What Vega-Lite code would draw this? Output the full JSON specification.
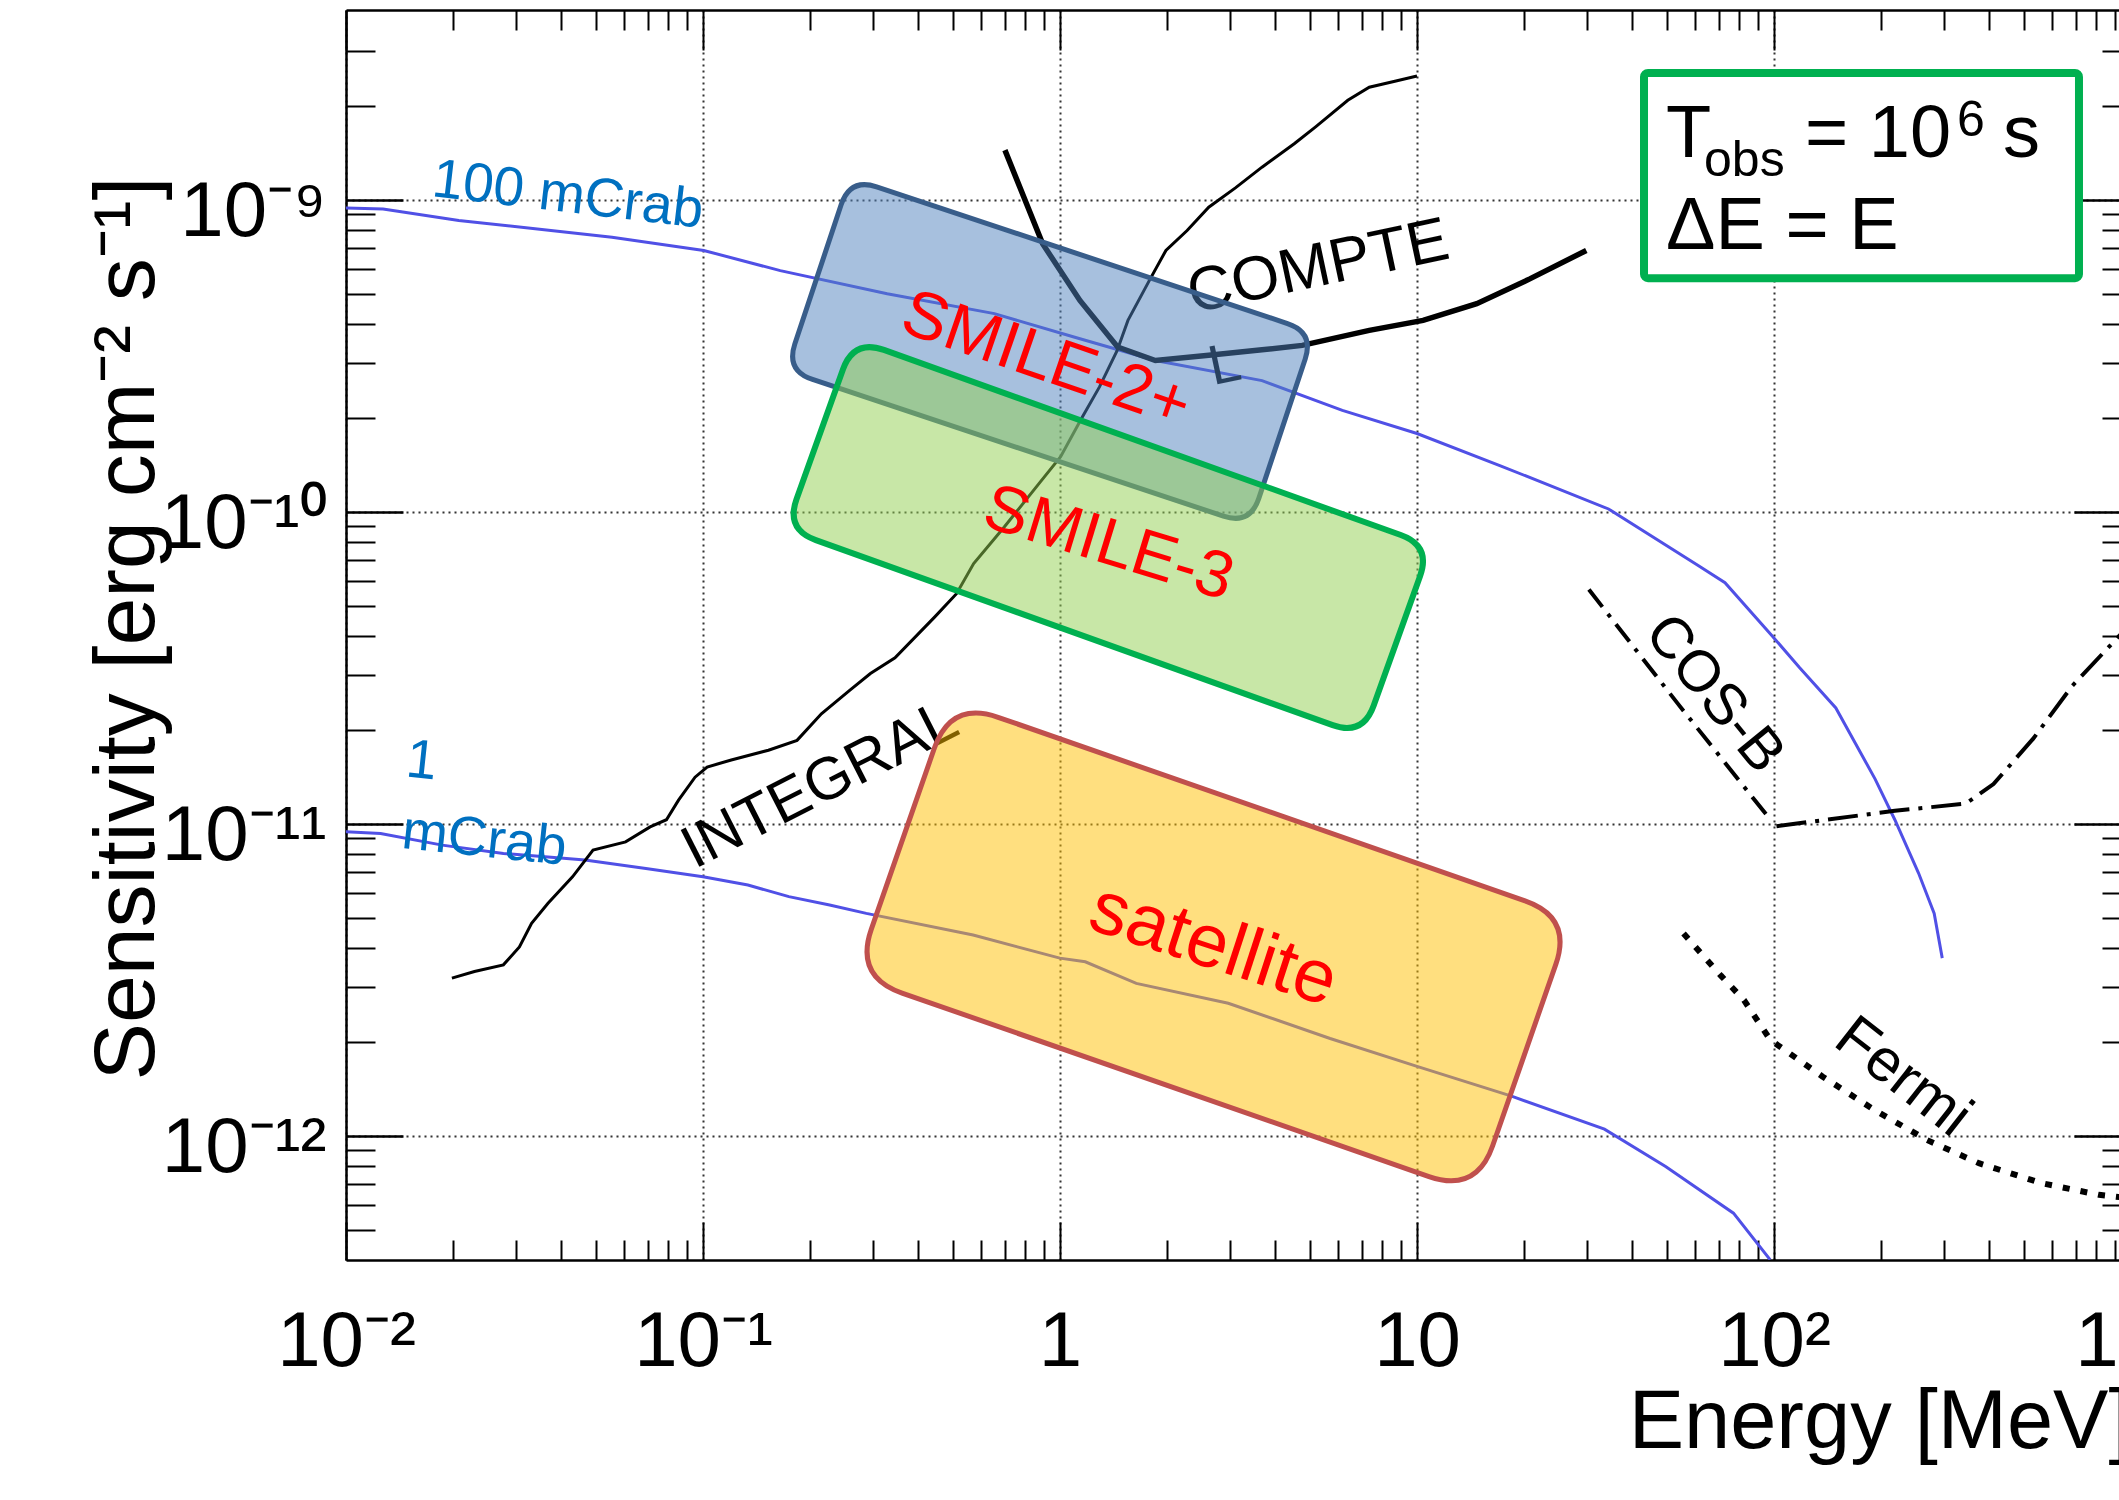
{
 "$schema": "https://vega.github.io/schema/vega-lite/v6.json",
 "autosize": {"type": "none"},
 "padding": {"left": 346, "top": 10, "right": 0, "bottom": 240},
 "width": 1785,
 "height": 1250,
 "background": "white",
 "config": {"view": {"stroke": null}, "font": "Liberation Sans"},
 "datasets": {
  "curves": [
   {"c":"m100","E":0.01,"S":9.40e-10},{"c":"m100","E":0.0127,"S":9.33e-10},{"c":"m100","E":0.0207,"S":8.57e-10},{"c":"m100","E":0.0375,"S":7.96e-10},{"c":"m100","E":0.0556,"S":7.57e-10},{"c":"m100","E":0.1005,"S":6.87e-10},{"c":"m100","E":0.1646,"S":5.92e-10},{"c":"m100","E":0.328,"S":4.99e-10},{"c":"m100","E":0.655,"S":4.31e-10},{"c":"m100","E":1.10,"S":3.62e-10},{"c":"m100","E":1.85,"S":3.05e-10},{"c":"m100","E":3.68,"S":2.63e-10},{"c":"m100","E":6.18,"S":2.11e-10},{"c":"m100","E":10.0,"S":1.78e-10},{"c":"m100","E":17.2,"S":1.40e-10},{"c":"m100","E":34.4,"S":1.02e-10},{"c":"m100","E":61.0,"S":6.75e-11},{"c":"m100","E":72.9,"S":5.92e-11},{"c":"m100","E":99.0,"S":3.99e-11},{"c":"m100","E":118,"S":3.16e-11},{"c":"m100","E":149,"S":2.35e-11},{"c":"m100","E":192,"S":1.39e-11},{"c":"m100","E":218,"S":1.03e-11},{"c":"m100","E":254,"S":6.95e-12},{"c":"m100","E":281,"S":5.16e-12},{"c":"m100","E":296,"S":3.71e-12},
   {"c":"m1","E":0.01,"S":9.42e-12},{"c":"m1","E":0.0125,"S":9.31e-12},{"c":"m1","E":0.0186,"S":8.54e-12},{"c":"m1","E":0.0276,"S":8.03e-12},{"c":"m1","E":0.0467,"S":7.65e-12},{"c":"m1","E":0.0692,"S":7.19e-12},{"c":"m1","E":0.1,"S":6.76e-12},{"c":"m1","E":0.1336,"S":6.36e-12},{"c":"m1","E":0.174,"S":5.84e-12},{"c":"m1","E":0.2263,"S":5.49e-12},{"c":"m1","E":0.2867,"S":5.16e-12},{"c":"m1","E":0.571,"S":4.40e-12},{"c":"m1","E":0.999,"S":3.71e-12},{"c":"m1","E":1.177,"S":3.61e-12},{"c":"m1","E":1.636,"S":3.08e-12},{"c":"m1","E":2.96,"S":2.66e-12},{"c":"m1","E":5.71,"S":2.05e-12},{"c":"m1","E":10.0,"S":1.67e-12},{"c":"m1","E":18.4,"S":1.34e-12},{"c":"m1","E":33.5,"S":1.05e-12},{"c":"m1","E":49.7,"S":7.97e-13},{"c":"m1","E":77.0,"S":5.65e-13},{"c":"m1","E":97.5,"S":4.01e-13},
   {"c":"integral","E":0.0198,"S":3.20e-12},{"c":"integral","E":0.0229,"S":3.36e-12},{"c":"integral","E":0.0276,"S":3.53e-12},{"c":"integral","E":0.0306,"S":4.03e-12},{"c":"integral","E":0.0331,"S":4.80e-12},{"c":"integral","E":0.0368,"S":5.56e-12},{"c":"integral","E":0.0431,"S":6.76e-12},{"c":"integral","E":0.0492,"S":8.23e-12},{"c":"integral","E":0.0607,"S":8.75e-12},{"c":"integral","E":0.0711,"S":9.77e-12},{"c":"integral","E":0.079,"S":1.03e-11},{"c":"integral","E":0.0854,"S":1.19e-11},{"c":"integral","E":0.095,"S":1.41e-11},{"c":"integral","E":0.1027,"S":1.52e-11},{"c":"integral","E":0.12,"S":1.60e-11},{"c":"integral","E":0.1525,"S":1.72e-11},{"c":"integral","E":0.1834,"S":1.85e-11},{"c":"integral","E":0.2146,"S":2.25e-11},{"c":"integral","E":0.258,"S":2.68e-11},{"c":"integral","E":0.2944,"S":3.03e-11},{"c":"integral","E":0.345,"S":3.40e-11},{"c":"integral","E":0.446,"S":4.6e-11},{"c":"integral","E":0.513,"S":5.46e-11},{"c":"integral","E":0.573,"S":6.82e-11},{"c":"integral","E":0.698,"S":8.93e-11},{"c":"integral","E":0.873,"S":1.23e-10},{"c":"integral","E":1.004,"S":1.50e-10},{"c":"integral","E":1.155,"S":2.01e-10},{"c":"integral","E":1.29,"S":2.51e-10},{"c":"integral","E":1.445,"S":3.28e-10},{"c":"integral","E":1.55,"S":4.10e-10},{"c":"integral","E":1.78,"S":5.51e-10},{"c":"integral","E":1.98,"S":6.87e-10},{"c":"integral","E":2.27,"S":7.96e-10},{"c":"integral","E":2.61,"S":9.45e-10},{"c":"integral","E":3.10,"S":1.09e-9},{"c":"integral","E":3.68,"S":1.27e-9},{"c":"integral","E":4.53,"S":1.51e-9},{"c":"integral","E":5.20,"S":1.71e-9},{"c":"integral","E":6.40,"S":2.08e-9},{"c":"integral","E":7.35,"S":2.29e-9},{"c":"integral","E":8.73,"S":2.40e-9},{"c":"integral","E":10.0,"S":2.49e-9},
   {"c":"comptel","E":0.701,"S":1.44e-9},{"c":"comptel","E":0.894,"S":7.22e-10},{"c":"comptel","E":1.137,"S":4.75e-10},{"c":"comptel","E":1.45,"S":3.37e-10},{"c":"comptel","E":1.85,"S":3.05e-10},{"c":"comptel","E":2.61,"S":3.17e-10},{"c":"comptel","E":3.68,"S":3.30e-10},{"c":"comptel","E":4.77,"S":3.41e-10},{"c":"comptel","E":7.35,"S":3.81e-10},{"c":"comptel","E":10.4,"S":4.10e-10},{"c":"comptel","E":14.7,"S":4.64e-10},{"c":"comptel","E":20.7,"S":5.57e-10},{"c":"comptel","E":29.8,"S":6.87e-10},
   {"c":"cosb","E":30.3,"S":5.63e-11},{"c":"cosb","E":53.7,"S":2.43e-11},{"c":"cosb","E":97.7,"S":1.03e-11},
   {"c":"egret","E":101.6,"S":9.82e-12},{"c":"egret","E":218,"S":1.10e-11},{"c":"egret","E":344.7,"S":1.16e-11},{"c":"egret","E":411.9,"S":1.34e-11},{"c":"egret","E":531.5,"S":1.87e-11},{"c":"egret","E":685.5,"S":2.77e-11},{"c":"egret","E":925.5,"S":3.99e-11},{"c":"egret","E":1000,"S":4.38e-11},
   {"c":"fermi","E":55.8,"S":4.45e-12},{"c":"fermi","E":71.0,"S":3.26e-12},{"c":"fermi","E":82.4,"S":2.72e-12},{"c":"fermi","E":97.6,"S":2.03e-12},{"c":"fermi","E":136.6,"S":1.55e-12},{"c":"fermi","E":191.2,"S":1.21e-12},{"c":"fermi","E":267.9,"S":9.7e-13},{"c":"fermi","E":375,"S":8.17e-13},{"c":"fermi","E":562,"S":7.05e-13},{"c":"fermi","E":813,"S":6.47e-13},{"c":"fermi","E":1000,"S":6.3e-13}
  ],
  "labels": [
   {"t":"INTEGRAL","E":0.2127,"S":1.329e-11},
   {"t":"COMPTE","E":5.28,"S":6.08e-10},
   {"t":"L","E":2.891,"S":2.94e-10},
   {"t":"COS-B","E":67.9,"S":2.6e-11},
   {"t":"Fermi","E":229.8,"S":1.54e-12},
   {"t":"100 mCrab","E":0.04185,"S":1.034e-9},
   {"t":"1","E":0.01629,"S":1.59e-11},
   {"t":"mCrab","E":0.0244,"S":8.9e-12},
   {"t":"SMILE-2+","E":0.9138,"S":3.05e-10},
   {"t":"SMILE-3","E":1.369,"S":7.89e-11},
   {"t":"satellite","E":2.693,"S":4.08e-12}
  ],
  "boxes": [
   {"b":"SMILE-2+","E":0.9376,"S":3.26e-10},
   {"b":"SMILE-3","E":1.3656,"S":8.26e-11},
   {"b":"satellite","E":2.692,"S":4.03e-12}
  ],
  "legend": [{"E1":43.24,"E2":715.0,"S1":2.544e-9,"S2":5.60e-10}],
  "legendtext": [
   {"t":"T","E":49.84,"S":1.366e-9},
   {"t":"obs","E":63.68,"S":1.193e-9},
   {"t":"= 10","E":122.2,"S":1.366e-9},
   {"t":"6","E":325.5,"S":1.603e-9},
   {"t":"s","E":438.0,"S":1.366e-9},
   {"t":"ΔE = E","E":49.84,"S":6.95e-10}
  ]
 },
 "layer": [
  {"data":{"name":"curves"},"transform":[{"filter":"datum.c==='m100'"}],
   "mark":{"type":"line","color":"#5050E6","strokeWidth":3,"clip":true},
   "encoding":{
    "x":{"field":"E","type":"quantitative","scale":{"type":"log","domain":[0.01,1000],"nice":false},
     "axis":{"orient":"bottom","values":[0.01,0.1,1,10,100,1000],
      "labelExpr":"datum.value==0.01?'10⁻²':datum.value==0.1?'10⁻¹':datum.value==1?'1':datum.value==10?'10':datum.value==100?'10²':'10³'",
      "ticks":false,"grid":true,"gridColor":"#333333","gridDash":[2,4],"gridWidth":2,
      "domain":true,"domainColor":"black","domainWidth":2.5,
      "labelFont":"Liberation Sans","labelFontSize":78,"labelColor":"black","labelBaseline":"alphabetic","labelPadding":105,
      "labelFlush":false,"labelOverlap":false,
      "title":"Energy [MeV]","titleFont":"Liberation Sans","titleFontSize":83,"titleFontWeight":"normal","titleColor":"black",
      "titleX":1785,"titleY":187,"titleAlign":"right","titleBaseline":"alphabetic","titleAnchor":"end"}},
    "y":{"field":"S","type":"quantitative","scale":{"type":"log","domain":[4.0e-13,4.05e-9],"nice":false},
     "axis":{"orient":"left","values":[1e-12,1e-11,1e-10,1e-9],
      "labelExpr":"datum.value==1e-12?'10⁻¹²':datum.value==1e-11?'10⁻¹¹':datum.value==1e-10?'10⁻¹⁰':'10⁻⁹'",
      "ticks":false,"grid":true,"gridColor":"#333333","gridDash":[2,4],"gridWidth":2,
      "domain":true,"domainColor":"black","domainWidth":2.5,
      "labelFont":"Liberation Sans","labelFontSize":78,"labelColor":"black","labelBaseline":"alphabetic","labelPadding":20,"labelOffset":36,"labelAlign":"right",
      "labelFlush":false,"labelOverlap":false,
      "title":"Sensitivity [erg cm⁻² s⁻¹]","titleFont":"Liberation Sans","titleFontSize":86,"titleFontWeight":"normal","titleColor":"black",
      "titleX":-193,"titleY":618,"titleAngle":270,"titleAlign":"center","titleBaseline":"alphabetic"}}}},
  {"data":{"name":"boxes"},"mark":{"type":"point","opacity":0,"size":1},
   "encoding":{
    "x":{"field":"E","type":"quantitative","scale":{"type":"log","domain":[0.01,1000],"nice":false},
     "axis":{"orient":"top","values":[0.02,0.03,0.04,0.05,0.06,0.07,0.08,0.09,0.2,0.3,0.4,0.5,0.6,0.7,0.8,0.9,2,3,4,5,6,7,8,9,20,30,40,50,60,70,80,90,200,300,400,500,600,700,800,900],
      "tickSize":-20,"tickWidth":2,"tickColor":"black","labels":false,"domain":true,"domainColor":"black","domainWidth":2.5,"grid":false,"title":null}},
    "y":{"field":"S","type":"quantitative","scale":{"type":"log","domain":[4.0e-13,4.05e-9],"nice":false},
     "axis":{"orient":"right","values":[5e-13,6e-13,7e-13,8e-13,9e-13,2e-12,3e-12,4e-12,5e-12,6e-12,7e-12,8e-12,9e-12,2e-11,3e-11,4e-11,5e-11,6e-11,7e-11,8e-11,9e-11,2e-10,3e-10,4e-10,5e-10,6e-10,7e-10,8e-10,9e-10,2e-9,3e-9],
      "tickSize":-29,"tickWidth":2,"tickColor":"black","labels":false,"domain":true,"domainColor":"black","domainWidth":2.5,"grid":false,"title":null}}}},
  {"data":{"name":"boxes"},"mark":{"type":"point","opacity":0,"size":1},
   "encoding":{
    "x":{"field":"E","type":"quantitative","scale":{"type":"log","domain":[0.01,1000],"nice":false},
     "axis":{"orient":"bottom","values":[0.02,0.03,0.04,0.05,0.06,0.07,0.08,0.09,0.2,0.3,0.4,0.5,0.6,0.7,0.8,0.9,2,3,4,5,6,7,8,9,20,30,40,50,60,70,80,90,200,300,400,500,600,700,800,900],
      "tickSize":-20,"tickWidth":2,"tickColor":"black","labels":false,"domain":false,"grid":false,"title":null}},
    "y":{"field":"S","type":"quantitative","scale":{"type":"log","domain":[4.0e-13,4.05e-9],"nice":false},
     "axis":{"orient":"left","values":[5e-13,6e-13,7e-13,8e-13,9e-13,2e-12,3e-12,4e-12,5e-12,6e-12,7e-12,8e-12,9e-12,2e-11,3e-11,4e-11,5e-11,6e-11,7e-11,8e-11,9e-11,2e-10,3e-10,4e-10,5e-10,6e-10,7e-10,8e-10,9e-10,2e-9,3e-9],
      "tickSize":-29,"tickWidth":2,"tickColor":"black","labels":false,"domain":false,"grid":false,"title":null}}}},
  {"data":{"name":"boxes"},"mark":{"type":"point","opacity":0,"size":1},
   "encoding":{
    "x":{"field":"E","type":"quantitative","scale":{"type":"log","domain":[0.01,1000],"nice":false},
     "axis":{"orient":"bottom","values":[0.01,0.1,1,10,100,1000],"tickSize":-38,"tickWidth":2,"tickColor":"black","labels":false,"domain":false,"grid":false,"title":null}},
    "y":{"field":"S","type":"quantitative","scale":{"type":"log","domain":[4.0e-13,4.05e-9],"nice":false},
     "axis":{"orient":"left","values":[1e-12,1e-11,1e-10,1e-9],"tickSize":-57,"tickWidth":2.5,"tickColor":"black","labels":false,"domain":false,"grid":false,"title":null}}}},
  {"data":{"name":"boxes"},"mark":{"type":"point","opacity":0,"size":1},
   "encoding":{
    "x":{"field":"E","type":"quantitative","scale":{"type":"log","domain":[0.01,1000],"nice":false},
     "axis":{"orient":"top","values":[0.01,0.1,1,10,100,1000],"tickSize":-40,"tickWidth":2,"tickColor":"black","labels":false,"domain":false,"grid":false,"title":null}},
    "y":{"field":"S","type":"quantitative","scale":{"type":"log","domain":[4.0e-13,4.05e-9],"nice":false},
     "axis":{"orient":"right","values":[1e-12,1e-11,1e-10,1e-9],"tickSize":-57,"tickWidth":2.5,"tickColor":"black","labels":false,"domain":false,"grid":false,"title":null}}}},
  {"data":{"name":"curves"},"transform":[{"filter":"datum.c==='m1'"}],
   "mark":{"type":"line","color":"#5050E6","strokeWidth":3,"clip":true},
   "encoding":{"x":{"field":"E","type":"quantitative","scale":{"type":"log","domain":[0.01,1000],"nice":false},"axis":null},
    "y":{"field":"S","type":"quantitative","scale":{"type":"log","domain":[4.0e-13,4.05e-9],"nice":false},"axis":null}}},
  {"data":{"name":"curves"},"transform":[{"filter":"datum.c==='integral'"}],
   "mark":{"type":"line","color":"black","strokeWidth":3,"clip":true},
   "encoding":{"x":{"field":"E","type":"quantitative","scale":{"type":"log","domain":[0.01,1000],"nice":false},"axis":null},
    "y":{"field":"S","type":"quantitative","scale":{"type":"log","domain":[4.0e-13,4.05e-9],"nice":false},"axis":null}}},
  {"data":{"name":"curves"},"transform":[{"filter":"datum.c==='comptel'"}],
   "mark":{"type":"line","color":"black","strokeWidth":5.5,"clip":true},
   "encoding":{"x":{"field":"E","type":"quantitative","scale":{"type":"log","domain":[0.01,1000],"nice":false},"axis":null},
    "y":{"field":"S","type":"quantitative","scale":{"type":"log","domain":[4.0e-13,4.05e-9],"nice":false},"axis":null}}},
  {"data":{"name":"curves"},"transform":[{"filter":"datum.c==='cosb'"}],
   "mark":{"type":"line","color":"black","strokeWidth":4,"strokeDash":[22,9,4,9],"clip":true},
   "encoding":{"x":{"field":"E","type":"quantitative","scale":{"type":"log","domain":[0.01,1000],"nice":false},"axis":null},
    "y":{"field":"S","type":"quantitative","scale":{"type":"log","domain":[4.0e-13,4.05e-9],"nice":false},"axis":null}}},
  {"data":{"name":"curves"},"transform":[{"filter":"datum.c==='egret'"}],
   "mark":{"type":"line","color":"black","strokeWidth":4,"strokeDash":[30,9,4,9],"clip":true},
   "encoding":{"x":{"field":"E","type":"quantitative","scale":{"type":"log","domain":[0.01,1000],"nice":false},"axis":null},
    "y":{"field":"S","type":"quantitative","scale":{"type":"log","domain":[4.0e-13,4.05e-9],"nice":false},"axis":null}}},
  {"data":{"name":"curves"},"transform":[{"filter":"datum.c==='fermi'"}],
   "mark":{"type":"line","color":"black","strokeWidth":6,"strokeDash":[7,11],"clip":true},
   "encoding":{"x":{"field":"E","type":"quantitative","scale":{"type":"log","domain":[0.01,1000],"nice":false},"axis":null},
    "y":{"field":"S","type":"quantitative","scale":{"type":"log","domain":[4.0e-13,4.05e-9],"nice":false},"axis":null}}},
  {"data":{"name":"labels"},"transform":[{"filter":"datum.t==='INTEGRAL'"}],
   "mark":{"type":"text","angle":333,"fontSize":60,"font":"Liberation Sans","color":"black","align":"center","baseline":"middle"},
   "encoding":{"x":{"field":"E","type":"quantitative","scale":{"type":"log","domain":[0.01,1000],"nice":false},"axis":null},
    "y":{"field":"S","type":"quantitative","scale":{"type":"log","domain":[4.0e-13,4.05e-9],"nice":false},"axis":null},"text":{"field":"t"}}},
  {"data":{"name":"labels"},"transform":[{"filter":"datum.t==='COMPTE'"}],
   "mark":{"type":"text","angle":348,"fontSize":62,"font":"Liberation Sans","color":"black","align":"center","baseline":"middle"},
   "encoding":{"x":{"field":"E","type":"quantitative","scale":{"type":"log","domain":[0.01,1000],"nice":false},"axis":null},
    "y":{"field":"S","type":"quantitative","scale":{"type":"log","domain":[4.0e-13,4.05e-9],"nice":false},"axis":null},"text":{"field":"t"}}},
  {"data":{"name":"labels"},"transform":[{"filter":"datum.t==='L'"}],
   "mark":{"type":"text","angle":348,"fontSize":56,"font":"Liberation Sans","color":"black","align":"center","baseline":"middle"},
   "encoding":{"x":{"field":"E","type":"quantitative","scale":{"type":"log","domain":[0.01,1000],"nice":false},"axis":null},
    "y":{"field":"S","type":"quantitative","scale":{"type":"log","domain":[4.0e-13,4.05e-9],"nice":false},"axis":null},"text":{"field":"t"}}},
  {"data":{"name":"labels"},"transform":[{"filter":"datum.t==='COS-B'"}],
   "mark":{"type":"text","angle":51,"fontSize":58,"font":"Liberation Sans","color":"black","align":"center","baseline":"middle"},
   "encoding":{"x":{"field":"E","type":"quantitative","scale":{"type":"log","domain":[0.01,1000],"nice":false},"axis":null},
    "y":{"field":"S","type":"quantitative","scale":{"type":"log","domain":[4.0e-13,4.05e-9],"nice":false},"axis":null},"text":{"field":"t"}}},
  {"data":{"name":"labels"},"transform":[{"filter":"datum.t==='Fermi'"}],
   "mark":{"type":"text","angle":38,"fontSize":60,"font":"Liberation Sans","color":"black","align":"center","baseline":"middle"},
   "encoding":{"x":{"field":"E","type":"quantitative","scale":{"type":"log","domain":[0.01,1000],"nice":false},"axis":null},
    "y":{"field":"S","type":"quantitative","scale":{"type":"log","domain":[4.0e-13,4.05e-9],"nice":false},"axis":null},"text":{"field":"t"}}},
  {"data":{"name":"labels"},"transform":[{"filter":"datum.t==='100 mCrab'"}],
   "mark":{"type":"text","angle":6.7,"fontSize":55,"font":"Liberation Sans","color":"#0070C0","align":"center","baseline":"middle"},
   "encoding":{"x":{"field":"E","type":"quantitative","scale":{"type":"log","domain":[0.01,1000],"nice":false},"axis":null},
    "y":{"field":"S","type":"quantitative","scale":{"type":"log","domain":[4.0e-13,4.05e-9],"nice":false},"axis":null},"text":{"field":"t"}}},
  {"data":{"name":"labels"},"transform":[{"filter":"datum.t==='1' || datum.t==='mCrab'"}],
   "mark":{"type":"text","angle":6,"fontSize":55,"font":"Liberation Sans","color":"#0070C0","align":"center","baseline":"middle"},
   "encoding":{"x":{"field":"E","type":"quantitative","scale":{"type":"log","domain":[0.01,1000],"nice":false},"axis":null},
    "y":{"field":"S","type":"quantitative","scale":{"type":"log","domain":[4.0e-13,4.05e-9],"nice":false},"axis":null},"text":{"field":"t"}}},
  {"data":{"name":"boxes"},"transform":[{"filter":"datum.b==='SMILE-2+'"}],
   "mark":{"type":"point","shape":"M -0.8855 -0.4151 L 0.8855 -0.4151 Q 1 -0.4151 1 -0.3006 L 1 0.3006 Q 1 0.4151 0.8855 0.4151 L -0.8855 0.4151 Q -1 0.4151 -1 0.3006 L -1 -0.3006 Q -1 -0.4151 -0.8855 -0.4151 Z",
    "size":239121,"angle":18.4,"filled":true,"fill":"#4F81BD","fillOpacity":0.5,"stroke":"#385D8A","strokeOpacity":1,"strokeWidth":5,"opacity":1},
   "encoding":{"x":{"field":"E","type":"quantitative","scale":{"type":"log","domain":[0.01,1000],"nice":false},"axis":null},
    "y":{"field":"S","type":"quantitative","scale":{"type":"log","domain":[4.0e-13,4.05e-9],"nice":false},"axis":null}}},
  {"data":{"name":"boxes"},"transform":[{"filter":"datum.b==='SMILE-3'"}],
   "mark":{"type":"point","shape":"M -0.8956 -0.3295 L 0.8956 -0.3295 Q 1 -0.3295 1 -0.2251 L 1 0.2251 Q 1 0.3295 0.8956 0.3295 L -0.8956 0.3295 Q -1 0.3295 -1 0.2251 L -1 -0.2251 Q -1 -0.3295 -0.8956 -0.3295 Z",
    "size":375769,"angle":19.7,"filled":true,"fill":"#92D050","fillOpacity":0.5,"stroke":"#00B050","strokeOpacity":1,"strokeWidth":6,"opacity":1},
   "encoding":{"x":{"field":"E","type":"quantitative","scale":{"type":"log","domain":[0.01,1000],"nice":false},"axis":null},
    "y":{"field":"S","type":"quantitative","scale":{"type":"log","domain":[4.0e-13,4.05e-9],"nice":false},"axis":null}}},
  {"data":{"name":"boxes"},"transform":[{"filter":"datum.b==='satellite'"}],
   "mark":{"type":"point","shape":"M -0.848 -0.4438 L 0.848 -0.4438 Q 1 -0.4438 1 -0.2918 L 1 0.2918 Q 1 0.4438 0.848 0.4438 L -0.848 0.4438 Q -1 0.4438 -1 0.2918 L -1 -0.2918 Q -1 -0.4438 -0.848 -0.4438 Z",
    "size":432964,"angle":19.2,"filled":true,"fill":"#FFC000","fillOpacity":0.5,"stroke":"#C0504D","strokeOpacity":1,"strokeWidth":5,"opacity":1},
   "encoding":{"x":{"field":"E","type":"quantitative","scale":{"type":"log","domain":[0.01,1000],"nice":false},"axis":null},
    "y":{"field":"S","type":"quantitative","scale":{"type":"log","domain":[4.0e-13,4.05e-9],"nice":false},"axis":null}}},
  {"data":{"name":"labels"},"transform":[{"filter":"datum.t==='SMILE-2+'"}],
   "mark":{"type":"text","angle":19,"fontSize":67,"font":"Liberation Sans","color":"#FF0000","align":"center","baseline":"middle"},
   "encoding":{"x":{"field":"E","type":"quantitative","scale":{"type":"log","domain":[0.01,1000],"nice":false},"axis":null},
    "y":{"field":"S","type":"quantitative","scale":{"type":"log","domain":[4.0e-13,4.05e-9],"nice":false},"axis":null},"text":{"field":"t"}}},
  {"data":{"name":"labels"},"transform":[{"filter":"datum.t==='SMILE-3'"}],
   "mark":{"type":"text","angle":17,"fontSize":66,"font":"Liberation Sans","color":"#FF0000","align":"center","baseline":"middle"},
   "encoding":{"x":{"field":"E","type":"quantitative","scale":{"type":"log","domain":[0.01,1000],"nice":false},"axis":null},
    "y":{"field":"S","type":"quantitative","scale":{"type":"log","domain":[4.0e-13,4.05e-9],"nice":false},"axis":null},"text":{"field":"t"}}},
  {"data":{"name":"labels"},"transform":[{"filter":"datum.t==='satellite'"}],
   "mark":{"type":"text","angle":18,"fontSize":75,"font":"Liberation Sans","color":"#FF0000","align":"center","baseline":"middle"},
   "encoding":{"x":{"field":"E","type":"quantitative","scale":{"type":"log","domain":[0.01,1000],"nice":false},"axis":null},
    "y":{"field":"S","type":"quantitative","scale":{"type":"log","domain":[4.0e-13,4.05e-9],"nice":false},"axis":null},"text":{"field":"t"}}},
  {"data":{"name":"legend"},
   "mark":{"type":"rect","fill":"white","stroke":"#00B050","strokeWidth":8,"cornerRadius":4},
   "encoding":{"x":{"field":"E1","type":"quantitative","scale":{"type":"log","domain":[0.01,1000],"nice":false},"axis":null},
    "x2":{"field":"E2"},
    "y":{"field":"S1","type":"quantitative","scale":{"type":"log","domain":[4.0e-13,4.05e-9],"nice":false},"axis":null},
    "y2":{"field":"S2"}}},
  {"data":{"name":"legendtext"},"transform":[{"filter":"datum.t!=='obs' && datum.t!=='6'"}],
   "mark":{"type":"text","fontSize":74,"font":"Liberation Sans","color":"black","align":"left","baseline":"alphabetic"},
   "encoding":{"x":{"field":"E","type":"quantitative","scale":{"type":"log","domain":[0.01,1000],"nice":false},"axis":null},
    "y":{"field":"S","type":"quantitative","scale":{"type":"log","domain":[4.0e-13,4.05e-9],"nice":false},"axis":null},"text":{"field":"t"}}},
  {"data":{"name":"legendtext"},"transform":[{"filter":"datum.t==='obs'"}],
   "mark":{"type":"text","fontSize":50,"font":"Liberation Sans","color":"black","align":"left","baseline":"alphabetic"},
   "encoding":{"x":{"field":"E","type":"quantitative","scale":{"type":"log","domain":[0.01,1000],"nice":false},"axis":null},
    "y":{"field":"S","type":"quantitative","scale":{"type":"log","domain":[4.0e-13,4.05e-9],"nice":false},"axis":null},"text":{"field":"t"}}},
  {"data":{"name":"legendtext"},"transform":[{"filter":"datum.t==='6'"}],
   "mark":{"type":"text","fontSize":50,"font":"Liberation Sans","color":"black","align":"left","baseline":"alphabetic"},
   "encoding":{"x":{"field":"E","type":"quantitative","scale":{"type":"log","domain":[0.01,1000],"nice":false},"axis":null},
    "y":{"field":"S","type":"quantitative","scale":{"type":"log","domain":[4.0e-13,4.05e-9],"nice":false},"axis":null},"text":{"field":"t"}}}
 ]
}
